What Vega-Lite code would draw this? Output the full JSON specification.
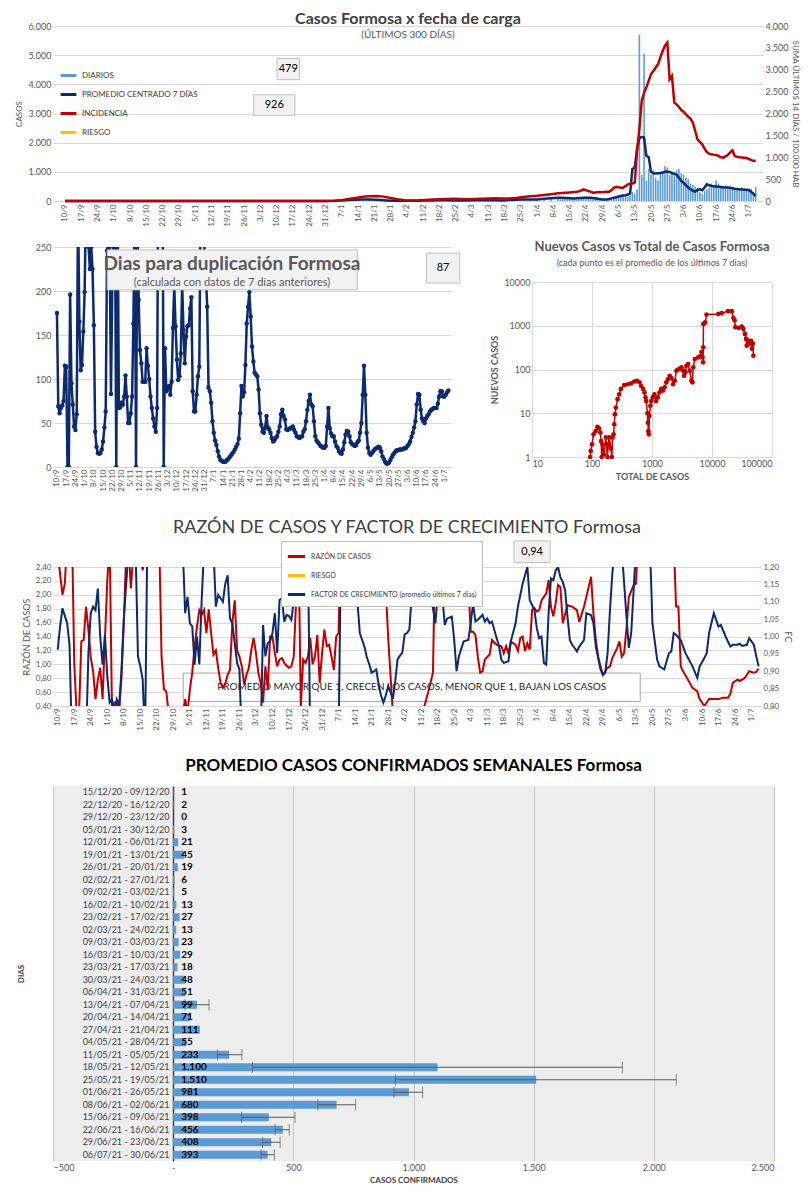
{
"$schema":"https://vega.github.io/schema/vega-lite/v6.json",
"background":"white",
"padding":{"left":15,"top":11,"right":10,"bottom":0},
"config":{
 "font":"Lato",
 "locale":{"number":{"decimal":",","thousands":".","grouping":[3],"currency":["$",""]}},
 "view":{"stroke":null},
 "axis":{"labelFont":"Lato","titleFont":"Lato","labelColor":"#595959","titleColor":"#595959","labelFontSize":9,"titleFontSize":9,"titleFontWeight":"normal","gridColor":"#d9d9d9","domainColor":"#bfbfbf","tickColor":"#bfbfbf","ticks":false,"domain":false,"labelOverlap":false},
 "legend":{"labelFont":"Lato","labelColor":"#404040","labelFontSize":8,"symbolType":"stroke","symbolStrokeWidth":3,"labelLimit":400},
 "title":{"font":"Lato","color":"#595959","subtitleFont":"Lato","subtitleColor":"#595959","anchor":"middle"}
},
"resolve":{"scale":{"color":"independent"},"legend":{"color":"independent"}},
"datasets":{
"top":[{"t":0,"dia":0,"prom":0,"inc":0},{"t":30,"dia":0,"prom":0,"inc":0},{"t":60,"dia":0,"prom":0,"inc":0},{"t":90,"dia":0,"prom":0,"inc":0},{"t":112,"dia":1,"prom":1,"inc":2},
{"t":116,"dia":5,"prom":5,"inc":8},{"t":119,"dia":20,"prom":15,"inc":20},{"t":122,"dia":30,"prom":30,"inc":45},{"t":125,"dia":45,"prom":45,"inc":70},{"t":128,"dia":60,"prom":55,"inc":95},{"t":131,"dia":50,"prom":55,"inc":110},{"t":134,"dia":35,"prom":40,"inc":115},{"t":137,"dia":20,"prom":25,"inc":100},{"t":140,"dia":10,"prom":12,"inc":70},{"t":143,"dia":5,"prom":6,"inc":40},{"t":146,"dia":5,"prom":5,"inc":20},{"t":149,"dia":6,"prom":6,"inc":12},{"t":152,"dia":10,"prom":10,"inc":15},{"t":155,"dia":15,"prom":14,"inc":25},{"t":158,"dia":20,"prom":20,"inc":35},{"t":161,"dia":25,"prom":25,"inc":40},{"t":164,"dia":30,"prom":28,"inc":45},{"t":167,"dia":20,"prom":18,"inc":50},{"t":170,"dia":12,"prom":14,"inc":45},{"t":173,"dia":15,"prom":15,"inc":40},{"t":176,"dia":25,"prom":22,"inc":45},{"t":179,"dia":25,"prom":25,"inc":50},{"t":182,"dia":30,"prom":28,"inc":55},{"t":185,"dia":30,"prom":28,"inc":60},{"t":188,"dia":20,"prom":20,"inc":55},{"t":191,"dia":30,"prom":30,"inc":55},{"t":194,"dia":45,"prom":45,"inc":70},{"t":197,"dia":50,"prom":48,"inc":90},{"t":200,"dia":50,"prom":50,"inc":110},{"t":203,"dia":55,"prom":55,"inc":120},{"t":206,"dia":70,"prom":75,"inc":135},{"t":209,"dia":100,"prom":95,"inc":155},
{"t":212,"dia":100,"prom":110,"inc":175},{"t":213,"dia":60,"prom":115,"inc":180},{"t":214,"dia":130,"prom":110,"inc":185},{"t":215,"dia":150,"prom":100,"inc":190},{"t":216,"dia":120,"prom":100,"inc":190},{"t":217,"dia":90,"prom":95,"inc":195},{"t":218,"dia":80,"prom":95,"inc":200},{"t":219,"dia":70,"prom":90,"inc":205},{"t":220,"dia":40,"prom":95,"inc":210},{"t":221,"dia":90,"prom":100,"inc":220},{"t":222,"dia":100,"prom":105,"inc":240},{"t":223,"dia":120,"prom":110,"inc":267},{"t":224,"dia":150,"prom":110,"inc":250},{"t":225,"dia":130,"prom":115,"inc":230},{"t":226,"dia":110,"prom":110,"inc":215},{"t":227,"dia":60,"prom":105,"inc":190},{"t":228,"dia":100,"prom":95,"inc":195},{"t":229,"dia":110,"prom":80,"inc":200},{"t":230,"dia":80,"prom":65,"inc":205},{"t":231,"dia":40,"prom":55,"inc":200},{"t":232,"dia":30,"prom":50,"inc":205},{"t":233,"dia":20,"prom":55,"inc":210},{"t":234,"dia":30,"prom":70,"inc":213},{"t":235,"dia":60,"prom":90,"inc":250},{"t":236,"dia":90,"prom":110,"inc":300},{"t":237,"dia":150,"prom":130,"inc":327},{"t":238,"dia":200,"prom":150,"inc":315},{"t":239,"dia":190,"prom":170,"inc":305},{"t":240,"dia":220,"prom":190,"inc":305},{"t":241,"dia":180,"prom":200,"inc":340},{"t":242,"dia":160,"prom":220,"inc":380},{"t":243,"dia":200,"prom":260,"inc":390},{"t":244,"dia":320,"prom":1100,"inc":400},{"t":245,"dia":250,"prom":1150,"inc":420},{"t":246,"dia":400,"prom":1800,"inc":1150},{"t":247,"dia":5700,"prom":2150,"inc":1650},{"t":248,"dia":900,"prom":2200,"inc":2286},{"t":249,"dia":5050,"prom":2180,"inc":2476},{"t":250,"dia":700,"prom":1550,"inc":2600},{"t":251,"dia":1100,"prom":1500,"inc":2750},{"t":252,"dia":900,"prom":1000,"inc":2895},{"t":253,"dia":1050,"prom":950,"inc":2970},{"t":254,"dia":800,"prom":940,"inc":3050},{"t":255,"dia":700,"prom":950,"inc":3124},{"t":256,"dia":950,"prom":960,"inc":3280},{"t":257,"dia":1000,"prom":980,"inc":3429},{"t":258,"dia":1200,"prom":1000,"inc":3550},{"t":259,"dia":1150,"prom":1010,"inc":3619},{"t":260,"dia":900,"prom":990,"inc":2781},{"t":261,"dia":1000,"prom":960,"inc":2857},{"t":262,"dia":850,"prom":930,"inc":2248},{"t":263,"dia":1050,"prom":897,"inc":2210},{"t":264,"dia":1100,"prom":800,"inc":2150},{"t":265,"dia":950,"prom":690,"inc":2080},{"t":266,"dia":900,"prom":620,"inc":2040},{"t":267,"dia":800,"prom":540,"inc":1980},{"t":268,"dia":750,"prom":460,"inc":1930},{"t":269,"dia":600,"prom":400,"inc":1880},{"t":270,"dia":550,"prom":350,"inc":1790},{"t":271,"dia":500,"prom":320,"inc":1600},{"t":272,"dia":450,"prom":380,"inc":1410},{"t":273,"dia":300,"prom":400,"inc":1350},{"t":274,"dia":250,"prom":370,"inc":1295},{"t":275,"dia":350,"prom":460,"inc":1200},{"t":276,"dia":400,"prom":575,"inc":1120},{"t":277,"dia":450,"prom":540,"inc":1082},{"t":278,"dia":600,"prom":517,"inc":1070},{"t":279,"dia":550,"prom":505,"inc":1060},{"t":280,"dia":700,"prom":500,"inc":1052},{"t":281,"dia":600,"prom":490,"inc":1030},{"t":282,"dia":500,"prom":480,"inc":1000},{"t":283,"dia":450,"prom":470,"inc":990},{"t":284,"dia":550,"prom":465,"inc":1020},{"t":285,"dia":500,"prom":460,"inc":1052},{"t":286,"dia":520,"prom":450,"inc":1110},{"t":287,"dia":480,"prom":440,"inc":1158},{"t":288,"dia":450,"prom":420,"inc":1029},{"t":289,"dia":420,"prom":410,"inc":1010},{"t":290,"dia":400,"prom":400,"inc":1000},{"t":291,"dia":470,"prom":395,"inc":995},{"t":292,"dia":430,"prom":390,"inc":990},{"t":293,"dia":400,"prom":385,"inc":985},{"t":294,"dia":350,"prom":380,"inc":960},{"t":295,"dia":420,"prom":320,"inc":940},{"t":296,"dia":300,"prom":250,"inc":914},{"t":297,"dia":479,"prom":172,"inc":926}],
"dup":[{"t":0,"v":175},{"t":1,"v":69},{"t":2,"v":61},{"t":3,"v":67},{"t":4,"v":70},{"t":5,"v":75},{"t":6,"v":115},{"t":7,"v":114},{"t":8,"v":0},{"t":9,"v":0},{"t":10,"v":196},{"t":11,"v":95},{"t":12,"v":71},{"t":13,"v":46},{"t":14,"v":42},{"t":15,"v":60},{"t":16,"v":300},{"t":17,"v":165},{"t":18,"v":110},{"t":19,"v":116},{"t":20,"v":154},{"t":21,"v":199},{"t":22,"v":300},{"t":23,"v":300},{"t":24,"v":250},{"t":25,"v":225},{"t":26,"v":250},{"t":27,"v":225},{"t":28,"v":161},{"t":29,"v":40},{"t":30,"v":23},{"t":31,"v":16},{"t":32,"v":15},{"t":33,"v":16},{"t":34,"v":20},{"t":35,"v":29},{"t":36,"v":45},{"t":37,"v":63},{"t":38,"v":246},{"t":39,"v":250},{"t":40,"v":250},{"t":41,"v":83},{"t":42,"v":212},{"t":43,"v":250},{"t":44,"v":300},{"t":45,"v":0},{"t":46,"v":300},{"t":47,"v":67},{"t":48,"v":68},{"t":49,"v":73},{"t":50,"v":71},{"t":51,"v":80},{"t":52,"v":104},{"t":53,"v":80},{"t":54,"v":50},{"t":55,"v":50},{"t":56,"v":61},{"t":57,"v":80},{"t":58,"v":163},{"t":59,"v":300},{"t":60,"v":0},{"t":61,"v":300},{"t":62,"v":190},{"t":63,"v":133},{"t":64,"v":118},{"t":65,"v":97},{"t":66,"v":97},{"t":67,"v":97},{"t":68,"v":135},{"t":69,"v":115},{"t":70,"v":100},{"t":71,"v":80},{"t":72,"v":67},{"t":73,"v":55},{"t":74,"v":46},{"t":75,"v":40},{"t":76,"v":67},{"t":77,"v":400},{"t":78,"v":400},{"t":79,"v":400},{"t":80,"v":400},{"t":81,"v":0},{"t":82,"v":135},{"t":83,"v":86},{"t":84,"v":90},{"t":85,"v":92},{"t":86,"v":82},{"t":87,"v":97},{"t":88,"v":158},{"t":89,"v":205},{"t":90,"v":160},{"t":91,"v":122},{"t":92,"v":99},{"t":93,"v":103},{"t":94,"v":129},{"t":95,"v":208},{"t":96,"v":156},{"t":97,"v":118},{"t":98,"v":148},{"t":99,"v":160},{"t":100,"v":161},{"t":101,"v":180},{"t":102,"v":193},{"t":103,"v":86},{"t":104,"v":63},{"t":105,"v":63},{"t":106,"v":82},{"t":107,"v":103},{"t":108,"v":114},{"t":109,"v":300},{"t":110,"v":300},{"t":111,"v":300},{"t":112,"v":242},{"t":113,"v":220},{"t":114,"v":182},{"t":115,"v":90},{"t":116,"v":86},{"t":117,"v":73},{"t":118,"v":52},{"t":119,"v":39},{"t":120,"v":30},{"t":121,"v":25},{"t":122,"v":18},{"t":123,"v":12},{"t":124,"v":8},{"t":125,"v":7},{"t":126,"v":6},{"t":127,"v":6},{"t":128,"v":6},{"t":129,"v":8},{"t":130,"v":9},{"t":131,"v":11},{"t":132,"v":13},{"t":133,"v":15},{"t":134,"v":17},{"t":135,"v":20},{"t":136,"v":23},{"t":137,"v":26},{"t":138,"v":32},{"t":139,"v":61},{"t":140,"v":92},{"t":141,"v":80},{"t":142,"v":85},{"t":143,"v":116},{"t":144,"v":163},{"t":145,"v":182},{"t":146,"v":199},{"t":147,"v":171},{"t":148,"v":137},{"t":149,"v":120},{"t":150,"v":107},{"t":151,"v":105},{"t":152,"v":103},{"t":153,"v":88},{"t":154,"v":61},{"t":155,"v":48},{"t":156,"v":40},{"t":157,"v":39},{"t":158,"v":45},{"t":159,"v":58},{"t":160,"v":45},{"t":161,"v":43},{"t":162,"v":39},{"t":163,"v":33},{"t":164,"v":29},{"t":165,"v":30},{"t":166,"v":33},{"t":167,"v":35},{"t":168,"v":40},{"t":169,"v":46},{"t":170,"v":60},{"t":171,"v":65},{"t":172,"v":58},{"t":173,"v":54},{"t":174,"v":43},{"t":175,"v":42},{"t":176,"v":43},{"t":177,"v":44},{"t":178,"v":45},{"t":179,"v":46},{"t":180,"v":42},{"t":181,"v":39},{"t":182,"v":35},{"t":183,"v":34},{"t":184,"v":33},{"t":185,"v":34},{"t":186,"v":35},{"t":187,"v":40},{"t":188,"v":43},{"t":189,"v":52},{"t":190,"v":65},{"t":191,"v":75},{"t":192,"v":82},{"t":193,"v":71},{"t":194,"v":69},{"t":195,"v":52},{"t":196,"v":35},{"t":197,"v":30},{"t":198,"v":28},{"t":199,"v":26},{"t":200,"v":24},{"t":201,"v":23},{"t":202,"v":22},{"t":203,"v":22},{"t":204,"v":24},{"t":205,"v":46},{"t":206,"v":67},{"t":207,"v":44},{"t":208,"v":38},{"t":209,"v":35},{"t":210,"v":35},{"t":211,"v":29},{"t":212,"v":24},{"t":213,"v":22},{"t":214,"v":18},{"t":215,"v":16},{"t":216,"v":15},{"t":217,"v":20},{"t":218,"v":28},{"t":219,"v":37},{"t":220,"v":41},{"t":221,"v":40},{"t":222,"v":35},{"t":223,"v":28},{"t":224,"v":26},{"t":225,"v":25},{"t":226,"v":24},{"t":227,"v":25},{"t":228,"v":28},{"t":229,"v":30},{"t":230,"v":39},{"t":231,"v":50},{"t":232,"v":82},{"t":233,"v":115},{"t":234,"v":82},{"t":235,"v":39},{"t":236,"v":22},{"t":237,"v":16},{"t":238,"v":14},{"t":239,"v":16},{"t":240,"v":18},{"t":241,"v":20},{"t":242,"v":21},{"t":243,"v":22},{"t":244,"v":23},{"t":245,"v":22},{"t":246,"v":18},{"t":247,"v":12},{"t":248,"v":9},{"t":249,"v":6},{"t":250,"v":4},{"t":251,"v":4},{"t":252,"v":5},{"t":253,"v":8},{"t":254,"v":11},{"t":255,"v":14},{"t":256,"v":16},{"t":257,"v":18},{"t":258,"v":19},{"t":259,"v":19},{"t":260,"v":20},{"t":261,"v":20},{"t":262,"v":20},{"t":263,"v":21},{"t":264,"v":21},{"t":265,"v":22},{"t":266,"v":24},{"t":267,"v":26},{"t":268,"v":29},{"t":269,"v":34},{"t":270,"v":39},{"t":271,"v":45},{"t":272,"v":52},{"t":273,"v":71},{"t":274,"v":83},{"t":275,"v":82},{"t":276,"v":65},{"t":277,"v":55},{"t":278,"v":52},{"t":279,"v":50},{"t":280,"v":55},{"t":281,"v":58},{"t":282,"v":60},{"t":283,"v":63},{"t":284,"v":65},{"t":285,"v":66},{"t":286,"v":67},{"t":287,"v":67},{"t":288,"v":67},{"t":289,"v":72},{"t":290,"v":80},{"t":291,"v":86},{"t":292,"v":86},{"t":293,"v":80},{"t":294,"v":80},{"t":295,"v":82},{"t":296,"v":85},{"t":297,"v":87}],
"sc":[{"x":93,"y":1},{"x":95,"y":1.37},{"x":100,"y":1.95},{"x":106,"y":3.3},{"x":115,"y":3.9},{"x":123,"y":4.9},{"x":131,"y":4.5},{"x":138,"y":3.6},{"x":142,"y":2.3},{"x":145,"y":1},{"x":150,"y":1.95},{"x":159,"y":1.15},{"x":170,"y":2.8},{"x":181,"y":1},{"x":187,"y":1.95},{"x":194,"y":2.8},{"x":206,"y":1.6},{"x":214,"y":1},{"x":220,"y":2.8},{"x":229,"y":3.3},{"x":235,"y":5.6},{"x":241,"y":9.5},{"x":250,"y":13.5},{"x":267,"y":21},{"x":284,"y":27},{"x":303,"y":36},{"x":345,"y":44},{"x":393,"y":46},{"x":446,"y":48},{"x":505,"y":53},{"x":560,"y":55},{"x":620,"y":51},{"x":660,"y":42},{"x":710,"y":36},{"x":750,"y":30},{"x":780,"y":23},{"x":800,"y":19},{"x":840,"y":10},{"x":855,"y":6.1},{"x":870,"y":3.9},{"x":885,"y":3.3},{"x":905,"y":8.7},{"x":940,"y":14.8},{"x":970,"y":19},{"x":1030,"y":23},{"x":1100,"y":27},{"x":1170,"y":19},{"x":1250,"y":23},{"x":1330,"y":30},{"x":1420,"y":36},{"x":1520,"y":33},{"x":1620,"y":39},{"x":1730,"y":51},{"x":1850,"y":60},{"x":1970,"y":72},{"x":2100,"y":64},{"x":2250,"y":46},{"x":2400,"y":55},{"x":2550,"y":94},{"x":2720,"y":100},{"x":2900,"y":103},{"x":3100,"y":112},{"x":3300,"y":94},{"x":3430,"y":72},{"x":3600,"y":86},{"x":3750,"y":122},{"x":4000,"y":133},{"x":4260,"y":94},{"x":4540,"y":55},{"x":4720,"y":51},{"x":4860,"y":112},{"x":5180,"y":174},{"x":5880,"y":190},{"x":6250,"y":197},{"x":6670,"y":250},{"x":6950,"y":190},{"x":7100,"y":146},{"x":7150,"y":323},{"x":7200,"y":1100},{"x":7700,"y":1190},{"x":8100,"y":1800},{"x":12800,"y":1860},{"x":14500,"y":1950},{"x":18500,"y":2150},{"x":21400,"y":2150},{"x":22800,"y":1500},{"x":23800,"y":1330},{"x":24500,"y":930},{"x":27800,"y":890},{"x":31300,"y":960},{"x":33300,"y":850},{"x":35400,"y":650},{"x":36900,"y":500},{"x":37900,"y":350},{"x":40500,"y":460},{"x":43500,"y":390},{"x":45000,"y":450},{"x":46400,"y":300},{"x":48000,"y":390},{"x":49000,"y":207}],
"rr":[{"t":0,"r":2.6},{"t":1,"r":2.3},{"t":2,"r":2.0},{"t":3,"r":2.16},{"t":4,"r":2.8},{"t":6,"r":3.0},{"t":7,"r":1.02},{"t":8,"r":0.3},{"t":9,"r":0.25},{"t":10,"r":1.33},{"t":11,"r":1.35},{"t":12,"r":1.83},{"t":13,"r":1.5},{"t":14,"r":1.1},{"t":15,"r":0.9},{"t":16,"r":0.5},{"t":17,"r":0.78},{"t":18,"r":0.95},{"t":19,"r":0.5},{"t":20,"r":1.35},{"t":21,"r":2.2},{"t":22,"r":2.8},{"t":23,"r":0.3},{"t":24,"r":0.45},{"t":25,"r":0.45},{"t":26,"r":0.3},{"t":27,"r":0.8},{"t":28,"r":1.6},{"t":29,"r":2.6},{"t":30,"r":2.7},{"t":31,"r":2.09},{"t":32,"r":2.6},{"t":34,"r":2.8},{"t":36,"r":2.35},{"t":37,"r":2.6},{"t":43,"r":2.8},{"t":44,"r":1.11},{"t":45,"r":0.64},{"t":46,"r":0.61},{"t":47,"r":0.3},{"t":50,"r":0.2},{"t":53,"r":0.3},{"t":54,"r":0.5},{"t":55,"r":0.3},{"t":56,"r":0.64},{"t":57,"r":0.88},{"t":58,"r":1.26},{"t":59,"r":1.54},{"t":60,"r":1.78},{"t":61,"r":1.71},{"t":62,"r":1.78},{"t":63,"r":1.45},{"t":64,"r":1.79},{"t":65,"r":1.45},{"t":66,"r":1.14},{"t":67,"r":1.2},{"t":68,"r":0.95},{"t":69,"r":0.73},{"t":70,"r":0.66},{"t":71,"r":0.72},{"t":72,"r":0.85},{"t":73,"r":0.92},{"t":74,"r":1.6},{"t":75,"r":1.92},{"t":76,"r":1.2},{"t":77,"r":1.11},{"t":78,"r":0.97},{"t":79,"r":0.71},{"t":80,"r":0.85},{"t":81,"r":0.95},{"t":82,"r":1.2},{"t":83,"r":1.38},{"t":84,"r":1.16},{"t":85,"r":0.88},{"t":86,"r":0.73},{"t":87,"r":0.45},{"t":88,"r":0.97},{"t":89,"r":0.64},{"t":90,"r":1.4},{"t":91,"r":1.4},{"t":92,"r":1.16},{"t":93,"r":0.97},{"t":94,"r":1.07},{"t":95,"r":1.09},{"t":96,"r":1.02},{"t":97,"r":0.98},{"t":98,"r":0.95},{"t":99,"r":0.97},{"t":100,"r":1.11},{"t":101,"r":1.9},{"t":102,"r":2.8},{"t":103,"r":0.4},{"t":104,"r":1.07},{"t":105,"r":1.02},{"t":106,"r":1.11},{"t":107,"r":1.38},{"t":108,"r":1.0},{"t":109,"r":1.11},{"t":110,"r":1.42},{"t":111,"r":0.73},{"t":112,"r":1.16},{"t":113,"r":1.5},{"t":114,"r":1.26},{"t":115,"r":1.28},{"t":116,"r":1.11},{"t":117,"r":0.92},{"t":118,"r":1.4},{"t":119,"r":1.45},{"t":120,"r":2.8},{"t":130,"r":3.0},{"t":138,"r":2.8},{"t":140,"r":1.4},{"t":142,"r":0.3},{"t":148,"r":0.2},{"t":154,"r":0.3},{"t":155,"r":0.35},{"t":157,"r":0.6},{"t":159,"r":0.88},{"t":160,"r":2.8},{"t":167,"r":3.0},{"t":173,"r":2.8},{"t":175,"r":1.47},{"t":176,"r":1.47},{"t":177,"r":1.42},{"t":178,"r":1.11},{"t":179,"r":0.88},{"t":180,"r":0.9},{"t":181,"r":1.07},{"t":183,"r":1.14},{"t":184,"r":1.35},{"t":186,"r":1.28},{"t":188,"r":1.26},{"t":189,"r":1.16},{"t":190,"r":1.26},{"t":191,"r":1.16},{"t":192,"r":1.33},{"t":194,"r":1.28},{"t":195,"r":1.19},{"t":196,"r":1.38},{"t":197,"r":1.4},{"t":198,"r":1.19},{"t":199,"r":1.3},{"t":200,"r":1.21},{"t":201,"r":1.78},{"t":202,"r":1.81},{"t":203,"r":1.76},{"t":204,"r":1.78},{"t":205,"r":1.92},{"t":207,"r":2.02},{"t":208,"r":2.21},{"t":209,"r":1.83},{"t":210,"r":1.69},{"t":211,"r":1.88},{"t":212,"r":2.14},{"t":213,"r":2.11},{"t":214,"r":1.59},{"t":216,"r":1.85},{"t":218,"r":1.83},{"t":220,"r":1.78},{"t":221,"r":1.61},{"t":223,"r":1.83},{"t":224,"r":1.97},{"t":226,"r":2.26},{"t":227,"r":1.73},{"t":228,"r":1.35},{"t":229,"r":1.11},{"t":230,"r":0.97},{"t":231,"r":0.85},{"t":233,"r":0.95},{"t":234,"r":0.97},{"t":235,"r":1.09},{"t":237,"r":1.23},{"t":238,"r":1.33},{"t":239,"r":1.11},{"t":240,"r":1.16},{"t":241,"r":1.52},{"t":242,"r":1.97},{"t":244,"r":2.14},{"t":245,"r":2.16},{"t":246,"r":2.8},{"t":254,"r":3.0},{"t":261,"r":2.8},{"t":262,"r":1.83},{"t":263,"r":1.83},{"t":264,"r":0.97},{"t":265,"r":0.9},{"t":267,"r":0.78},{"t":269,"r":0.66},{"t":271,"r":0.61},{"t":272,"r":0.5},{"t":274,"r":0.4},{"t":275,"r":0.45},{"t":276,"r":0.5},{"t":278,"r":0.5},{"t":280,"r":0.5},{"t":282,"r":0.52},{"t":284,"r":0.52},{"t":285,"r":0.57},{"t":286,"r":0.73},{"t":288,"r":0.78},{"t":289,"r":0.76},{"t":291,"r":0.8},{"t":292,"r":0.85},{"t":293,"r":0.9},{"t":295,"r":0.88},{"t":296,"r":0.89},{"t":297,"r":0.94}],
"ff":[{"t":0,"f":0.962},{"t":1,"f":1.029},{"t":2,"f":1.081},{"t":3,"f":1.06},{"t":4,"f":1.038},{"t":5,"f":0.976},{"t":6,"f":0.7},{"t":12,"f":0.7},{"t":13,"f":0.95},{"t":14,"f":1.067},{"t":15,"f":1.086},{"t":16,"f":1.076},{"t":17,"f":1.138},{"t":18,"f":1.0},{"t":19,"f":0.919},{"t":20,"f":1.005},{"t":21,"f":0.886},{"t":22,"f":0.81},{"t":23,"f":0.819},{"t":24,"f":0.78},{"t":25,"f":0.819},{"t":26,"f":0.8},{"t":27,"f":0.9},{"t":28,"f":1.05},{"t":29,"f":1.15},{"t":30,"f":1.25},{"t":33,"f":1.25},{"t":34,"f":0.943},{"t":35,"f":0.914},{"t":36,"f":0.876},{"t":37,"f":0.7},{"t":38,"f":1.3},{"t":52,"f":1.3},{"t":53,"f":1.25},{"t":54,"f":1.067},{"t":55,"f":1.114},{"t":56,"f":1.038},{"t":57,"f":1.029},{"t":58,"f":0.919},{"t":59,"f":1.0},{"t":60,"f":0.92},{"t":61,"f":1.105},{"t":62,"f":1.25},{"t":66,"f":1.25},{"t":67,"f":1.086},{"t":68,"f":1.12},{"t":69,"f":1.11},{"t":70,"f":1.1},{"t":71,"f":1.152},{"t":72,"f":1.176},{"t":73,"f":1.052},{"t":74,"f":1.038},{"t":75,"f":0.981},{"t":76,"f":0.924},{"t":77,"f":0.905},{"t":78,"f":0.7},{"t":86,"f":0.7},{"t":87,"f":1.033},{"t":88,"f":0.943},{"t":89,"f":0.981},{"t":90,"f":0.986},{"t":91,"f":1.01},{"t":92,"f":1.067},{"t":93,"f":0.952},{"t":94,"f":1.105},{"t":95,"f":1.11},{"t":96,"f":1.043},{"t":97,"f":1.062},{"t":98,"f":1.059},{"t":99,"f":1.048},{"t":100,"f":1.1},{"t":101,"f":1.25},{"t":106,"f":1.25},{"t":107,"f":0.7},{"t":119,"f":0.7},{"t":120,"f":1.25},{"t":126,"f":1.25},{"t":127,"f":1.1},{"t":128,"f":1.01},{"t":129,"f":0.99},{"t":130,"f":0.97},{"t":131,"f":0.94},{"t":132,"f":0.92},{"t":133,"f":0.896},{"t":134,"f":0.9},{"t":135,"f":0.905},{"t":136,"f":0.86},{"t":137,"f":0.83},{"t":138,"f":0.81},{"t":139,"f":0.83},{"t":140,"f":0.857},{"t":141,"f":0.84},{"t":142,"f":0.82},{"t":143,"f":0.87},{"t":144,"f":0.934},{"t":145,"f":0.945},{"t":146,"f":0.953},{"t":147,"f":1.006},{"t":148,"f":1.01},{"t":149,"f":1.02},{"t":150,"f":1.116},{"t":151,"f":1.124},{"t":152,"f":1.25},{"t":157,"f":1.25},{"t":158,"f":1.124},{"t":160,"f":1.038},{"t":161,"f":1.119},{"t":163,"f":1.114},{"t":164,"f":1.033},{"t":165,"f":1.052},{"t":167,"f":1.057},{"t":168,"f":0.99},{"t":169,"f":0.9},{"t":170,"f":0.943},{"t":172,"f":0.986},{"t":174,"f":0.99},{"t":175,"f":1.038},{"t":176,"f":1.095},{"t":177,"f":1.043},{"t":178,"f":1.048},{"t":180,"f":1.062},{"t":181,"f":1.043},{"t":182,"f":1.052},{"t":183,"f":1.038},{"t":184,"f":1.043},{"t":185,"f":1.019},{"t":187,"f":0.971},{"t":188,"f":0.933},{"t":189,"f":0.924},{"t":191,"f":0.929},{"t":192,"f":0.986},{"t":194,"f":1.038},{"t":195,"f":1.086},{"t":197,"f":1.152},{"t":198,"f":1.176},{"t":199,"f":1.2},{"t":200,"f":1.105},{"t":202,"f":1.076},{"t":203,"f":1.024},{"t":204,"f":0.995},{"t":205,"f":1.0},{"t":206,"f":0.924},{"t":207,"f":0.919},{"t":208,"f":1.067},{"t":209,"f":1.167},{"t":210,"f":1.162},{"t":211,"f":1.19},{"t":212,"f":1.2},{"t":213,"f":1.171},{"t":214,"f":1.157},{"t":215,"f":1.133},{"t":216,"f":1.057},{"t":217,"f":0.99},{"t":218,"f":0.976},{"t":219,"f":0.967},{"t":220,"f":0.957},{"t":221,"f":0.971},{"t":223,"f":0.99},{"t":224,"f":1.067},{"t":226,"f":1.062},{"t":227,"f":1.038},{"t":228,"f":0.971},{"t":230,"f":0.905},{"t":231,"f":0.89},{"t":232,"f":0.895},{"t":233,"f":0.952},{"t":234,"f":1.076},{"t":235,"f":1.181},{"t":236,"f":1.25},{"t":239,"f":1.25},{"t":241,"f":1.057},{"t":242,"f":0.967},{"t":243,"f":1.01},{"t":245,"f":1.25},{"t":251,"f":1.25},{"t":252,"f":1.038},{"t":254,"f":0.933},{"t":255,"f":0.914},{"t":257,"f":0.905},{"t":259,"f":0.952},{"t":260,"f":0.957},{"t":261,"f":1.01},{"t":262,"f":1.005},{"t":264,"f":0.99},{"t":266,"f":0.952},{"t":269,"f":0.914},{"t":271,"f":0.881},{"t":272,"f":0.914},{"t":274,"f":0.938},{"t":275,"f":0.952},{"t":276,"f":1.01},{"t":278,"f":1.067},{"t":279,"f":1.048},{"t":280,"f":1.029},{"t":281,"f":1.033},{"t":283,"f":1.0},{"t":285,"f":0.971},{"t":286,"f":0.976},{"t":288,"f":0.976},{"t":289,"f":0.979},{"t":290,"f":0.973},{"t":292,"f":0.976},{"t":293,"f":0.995},{"t":295,"f":0.976},{"t":296,"f":0.943},{"t":297,"f":0.914}],
"sem":[{"s":"15/12/20 - 09/12/20","v":1},{"s":"22/12/20 - 16/12/20","v":2},{"s":"29/12/20 - 23/12/20","v":0},{"s":"05/01/21 - 30/12/20","v":3},{"s":"12/01/21 - 06/01/21","v":21},{"s":"19/01/21 - 13/01/21","v":45},{"s":"26/01/21 - 20/01/21","v":19},{"s":"02/02/21 - 27/01/21","v":6},{"s":"09/02/21 - 03/02/21","v":5},{"s":"16/02/21 - 10/02/21","v":13},{"s":"23/02/21 - 17/02/21","v":27},{"s":"02/03/21 - 24/02/21","v":13},{"s":"09/03/21 - 03/03/21","v":23},{"s":"16/03/21 - 10/03/21","v":29},{"s":"23/03/21 - 17/03/21","v":18},{"s":"30/03/21 - 24/03/21","v":48},{"s":"06/04/21 - 31/03/21","v":51},{"s":"13/04/21 - 07/04/21","v":99,"lo":49,"hi":149},{"s":"20/04/21 - 14/04/21","v":71},{"s":"27/04/21 - 21/04/21","v":111},{"s":"04/05/21 - 28/04/21","v":55},{"s":"11/05/21 - 05/05/21","v":233,"lo":184,"hi":286},{"s":"18/05/21 - 12/05/21","v":1100,"lo":330,"hi":1869},{"s":"25/05/21 - 19/05/21","v":1510,"lo":925,"hi":2093},{"s":"01/06/21 - 26/05/21","v":981,"lo":919,"hi":1038},{"s":"08/06/21 - 02/06/21","v":680,"lo":602,"hi":759},{"s":"15/06/21 - 09/06/21","v":398,"lo":285,"hi":507},{"s":"22/06/21 - 16/06/21","v":456,"lo":424,"hi":483},{"s":"29/06/21 - 23/06/21","v":408,"lo":372,"hi":445},{"s":"06/07/21 - 30/06/21","v":393,"lo":366,"hi":421}]
},
"spacing":26,
"vconcat":[
{"vconcat":[
{
 "width":710,"height":175,
 "title":{"text":"Casos Formosa x fecha de carga","subtitle":"(ÚLTIMOS 300 DÍAS)","fontSize":16,"fontWeight":"bold","color":"#404040","subtitleFontSize":10,"subtitlePadding":3,"offset":-18},
 "layer":[
  {"layer":[
   {"data":{"name":"top"},"mark":{"type":"bar","width":1.6},
    "encoding":{
     "x":{"field":"t","type":"quantitative","scale":{"domain":[-3,298],"nice":false,"zero":false},"axis":{"values":[0,7,14,21,28,35,42,49,56,63,70,77,84,91,98,105,112,119,126,133,140,147,154,161,168,175,182,189,196,203,210,217,224,231,238,245,252,259,266,273,280,287,294],"tickCount":100,"labelExpr":"timeFormat(datetime(2020,8,10+datum.value),'%-d/%-m')","labelAngle":-90,"labelFontSize":8,"title":null,"grid":false,"labelPadding":3,"labelOverlap":false}},
     "y":{"field":"dia","type":"quantitative","scale":{"domain":[0,6000],"nice":false},"axis":{"values":[0,1000,2000,3000,4000,5000,6000],"tickCount":100,"format":",.0f","title":"CASOS","titleFontSize":8,"grid":true,"labelOverlap":false}},
     "color":{"datum":"DIARIOS","scale":{"domain":["DIARIOS","PROMEDIO CENTRADO 7 DÍAS","INCIDENCIA","RIESGO"],"range":["#5b9bd5","#0b2a6f","#c00000","#ffc000"]},"legend":{"title":null,"orient":"none","legendX":6,"legendY":40,"symbolSize":250,"labelFontSize":8,"rowPadding":3}}}},
   {"data":{"name":"top"},"mark":{"type":"line","strokeWidth":2.5},"encoding":{"x":{"field":"t","type":"quantitative"},"y":{"field":"prom","type":"quantitative"},"color":{"datum":"PROMEDIO CENTRADO 7 DÍAS"}}},
   {"data":{"values":[{"t":96,"y":4525,"txt":"479"}]},"layer":[
     {"mark":{"type":"point","shape":"M-1,-0.95H1V0.95H-1Z","size":500,"filled":true,"fill":"#f2f2f2","stroke":"#bfbfbf","strokeWidth":1,"opacity":1},"encoding":{"x":{"field":"t","type":"quantitative"},"y":{"field":"y","type":"quantitative"}}},
     {"mark":{"type":"text","fontSize":11,"color":"#000000"},"encoding":{"x":{"field":"t","type":"quantitative"},"y":{"field":"y","type":"quantitative"},"text":{"field":"txt"}}}]},
   {"data":{"values":[{"t":90,"y":3290,"txt":"926"}]},"layer":[
     {"mark":{"type":"point","shape":"M-1,-0.5H1V0.5H-1Z","size":1700,"filled":true,"fill":"#f2f2f2","stroke":"#bfbfbf","strokeWidth":1,"opacity":1},"encoding":{"x":{"field":"t","type":"quantitative"},"y":{"field":"y","type":"quantitative"}}},
     {"mark":{"type":"text","fontSize":11,"color":"#000000"},"encoding":{"x":{"field":"t","type":"quantitative"},"y":{"field":"y","type":"quantitative"},"text":{"field":"txt"}}}]}
  ]},
  {"layer":[
   {"data":{"name":"top"},"mark":{"type":"line","strokeWidth":2.5},"encoding":{"x":{"field":"t","type":"quantitative"},"y":{"field":"inc","type":"quantitative","scale":{"domain":[0,4000],"nice":false},"axis":{"orient":"right","values":[0,500,1000,1500,2000,2500,3000,3500,4000],"tickCount":100,"format":",.0f","title":"SUMA  ÚLTIMOS 14 DÍAS / 100.000 HAB","titleLimit":400,"grid":false,"titleFontSize":8,"titlePadding":2,"labelOverlap":false}},"color":{"datum":"INCIDENCIA"}}},
   {"mark":{"type":"rule","strokeWidth":3},"encoding":{"y":{"datum":150},"color":{"datum":"RIESGO"}}}
  ]}
 ],
 "resolve":{"scale":{"y":"independent"}}
},
{"hconcat":[
 {
  "width":398,"height":220,
  "title":{"text":"Dias para duplicación Formosa","subtitle":"(calculada con datos de 7 días anteriores)","fontSize":19,"fontWeight":"bold","color":"#595959","subtitleFontSize":11,"offset":-45,"dx":-20},
  "layer":[
   {"data":{"name":"dup"},"mark":{"type":"line","color":"#0b2a6f","strokeWidth":2.5,"clip":true},
    "encoding":{"x":{"field":"t","type":"quantitative","scale":{"domain":[-3,299],"nice":false,"zero":false},"axis":{"values":[0,7,14,21,28,35,42,49,56,63,70,77,84,91,98,105,112,119,126,133,140,147,154,161,168,175,182,189,196,203,210,217,224,231,238,245,252,259,266,273,280,287,294],"tickCount":100,"labelExpr":"timeFormat(datetime(2020,8,10+datum.value),'%-d/%-m')","labelAngle":-90,"labelFontSize":8,"title":null,"grid":false,"labelOverlap":false}},
     "y":{"field":"v","type":"quantitative","scale":{"domain":[0,250],"nice":false},"axis":{"values":[0,50,100,150,200,250],"tickCount":100,"title":null,"grid":true,"labelOverlap":false}}}},
   {"data":{"name":"dup"},"mark":{"type":"point","filled":true,"size":20,"color":"#0b2a6f","opacity":1,"clip":true},
    "encoding":{"x":{"field":"t","type":"quantitative"},"y":{"field":"v","type":"quantitative"}}},
   {"data":{"values":[{"t":133,"v":224}]},"mark":{"type":"point","shape":"M-1,-0.16H1V0.16H-1Z","size":62500,"filled":true,"fill":"#f2f2f2","stroke":"#bfbfbf","strokeWidth":1,"opacity":1},"encoding":{"x":{"field":"t","type":"quantitative"},"y":{"field":"v","type":"quantitative"}}},
   {"data":{"values":[{"t":293,"v":226,"txt":"87"}]},"layer":[
     {"mark":{"type":"point","shape":"M-1,-0.9H1V0.9H-1Z","size":1100,"filled":true,"fill":"#f2f2f2","stroke":"#bfbfbf","strokeWidth":1,"opacity":1},"encoding":{"x":{"field":"t","type":"quantitative"},"y":{"field":"v","type":"quantitative"}}},
     {"mark":{"type":"text","fontSize":11,"color":"#000000"},"encoding":{"x":{"field":"t","type":"quantitative"},"y":{"field":"v","type":"quantitative"},"text":{"field":"txt"}}}]}
  ]
 },
 {"vconcat":[
  {"width":240,"height":1,"data":{"values":[{"k":1}]},"mark":{"type":"point","opacity":0}},
  {
   "width":240,"height":175,
   "title":{"text":"Nuevos Casos vs Total de Casos Formosa","subtitle":"(cada punto es el promedio de los últimos 7 dias)","fontSize":13,"fontWeight":"bold","color":"#595959","subtitleFontSize":9,"subtitlePadding":5,"offset":10},
   "data":{"name":"sc"},
   "mark":{"type":"line","color":"#c00000","strokeWidth":1.5,"point":{"filled":true,"size":22,"color":"#c00000"}},
   "encoding":{
    "x":{"field":"x","type":"quantitative","scale":{"type":"log","domain":[10,100000],"nice":false},"axis":{"values":[10,100,1000,10000,100000],"tickCount":100,"format":"d","title":"TOTAL DE CASOS","titleFontWeight":"bold","titleFontSize":9,"grid":true,"labelOverlap":false}},
    "y":{"field":"y","type":"quantitative","scale":{"type":"log","domain":[1,10000],"nice":false},"axis":{"values":[1,10,100,1000,10000],"tickCount":100,"format":"d","title":"NUEVOS CASOS","titleFontWeight":"bold","titleFontSize":9,"grid":true,"labelOverlap":false}}
   }
  }
 ],"spacing":-10}
],"spacing":28}
],"spacing":14},
{
 "width":708,"height":139,
 "title":{"text":"RAZÓN DE CASOS Y FACTOR DE CRECIMIENTO Formosa","fontSize":18,"fontWeight":"normal","color":"#404040","offset":2},
 "layer":[
  {"layer":[
   {"data":{"values":[{"t":150,"y":0.67,"txt":"PROMEDIO MAYOR QUE 1, CRECEN LOS CASOS, MENOR QUE 1, BAJAN LOS CASOS"}]},"layer":[
     {"mark":{"type":"point","shape":"M-1,-0.062H1V0.062H-1Z","size":208849,"filled":true,"fill":"#ffffff","stroke":"#a6a6a6","strokeWidth":1,"opacity":1},"encoding":{"x":{"field":"t","type":"quantitative"},"y":{"field":"y","type":"quantitative"}}},
     {"mark":{"type":"text","fontSize":10,"color":"#262626"},"encoding":{"x":{"field":"t","type":"quantitative"},"y":{"field":"y","type":"quantitative"},"text":{"field":"txt"}}}]},
   {"data":{"name":"rr"},"mark":{"type":"line","strokeWidth":2,"clip":true},
    "encoding":{"x":{"field":"t","type":"quantitative","scale":{"domain":[-2,298],"nice":false,"zero":false},"axis":{"values":[0,7,14,21,28,35,42,49,56,63,70,77,84,91,98,105,112,119,126,133,140,147,154,161,168,175,182,189,196,203,210,217,224,231,238,245,252,259,266,273,280,287,294],"tickCount":100,"labelExpr":"timeFormat(datetime(2020,8,10+datum.value),'%-d/%-m')","labelAngle":-90,"labelFontSize":8,"title":null,"grid":false,"labelOverlap":false}},
     "y":{"field":"r","type":"quantitative","scale":{"domain":[0.4,2.4],"nice":false,"zero":false},"axis":{"values":[0.4,0.6,0.8,1.0,1.2,1.4,1.6,1.8,2.0,2.2,2.4],"tickCount":100,"format":".2f","title":"RAZÓN  DE CASOS","grid":true,"labelFontSize":8,"labelOverlap":false}},
     "color":{"datum":"RAZÓN DE CASOS","scale":{"domain":["RAZÓN DE CASOS","RIESGO","FACTOR DE CRECIMIENTO (promedio últimos 7 días)"],"range":["#c00000","#ffc000","#0b2a6f"]},"legend":{"title":null,"orient":"none","legendX":228,"legendY":-26,"symbolSize":300,"labelFontSize":7,"rowPadding":2,"fillColor":"#ffffff","strokeColor":"#bfbfbf","padding":5,"labelLimit":400}}}},
   {"data":{"values":[{"t":201,"y":2.62,"txt":"0,94"}]},"layer":[
     {"mark":{"type":"point","shape":"M-1,-0.6H1V0.6H-1Z","size":1300,"filled":true,"fill":"#f2f2f2","stroke":"#bfbfbf","strokeWidth":1,"opacity":1},"encoding":{"x":{"field":"t","type":"quantitative"},"y":{"field":"y","type":"quantitative"}}},
     {"mark":{"type":"text","fontSize":11,"color":"#000000"},"encoding":{"x":{"field":"t","type":"quantitative"},"y":{"field":"y","type":"quantitative"},"text":{"field":"txt"}}}]}
  ]},
  {"layer":[
   {"data":{"name":"ff"},"mark":{"type":"line","strokeWidth":2,"clip":true},
    "encoding":{"x":{"field":"t","type":"quantitative"},
     "y":{"field":"f","type":"quantitative","scale":{"domain":[0.8,1.2],"nice":false,"zero":false},"axis":{"orient":"right","values":[0.8,0.85,0.9,0.95,1.0,1.05,1.1,1.15,1.2],"tickCount":100,"format":".2f","title":"FC","grid":false,"labelFontSize":8,"labelOverlap":false}},
     "color":{"datum":"FACTOR DE CRECIMIENTO (promedio últimos 7 días)"}}},
   {"mark":{"type":"rule","strokeWidth":3},"encoding":{"y":{"datum":0.96},"color":{"datum":"RIESGO"}}}
  ]}
 ],
 "resolve":{"scale":{"y":"independent"}}
},
{
 "width":721,"height":375,
 "view":{"fill":"#ededed"},
 "title":{"text":"PROMEDIO CASOS CONFIRMADOS SEMANALES Formosa","fontSize":17,"fontWeight":"bold","color":"#000000","offset":11},
 "data":{"name":"sem"},
 "encoding":{"y":{"field":"s","type":"nominal","sort":null,"axis":{"title":"DIAS","titleFontWeight":"bold","titleFontSize":8,"titleColor":"#404040","titleX":-148,"labelFontSize":9,"labelColor":"#404040","offset":-120,"domain":true,"domainColor":"#404040","domainWidth":1.5,"labelPadding":4,"labelOverlap":false}}},
 "layer":[
  {"mark":{"type":"bar","color":"#5b9bd5","height":{"band":0.72}},
   "encoding":{"x":{"field":"v","type":"quantitative","title":"CASOS CONFIRMADOS","scale":{"domain":[-500,2500],"nice":false,"zero":false},"axis":{"values":[-500,0,500,1000,1500,2000,2500],"tickCount":100,"labelExpr":"datum.value==0?'-':format(datum.value,',.0f')","title":"CASOS CONFIRMADOS","titleFontWeight":"bold","titleFontSize":8,"titleColor":"#404040","grid":true,"gridColor":"#c8c8c8","labelFontSize":9,"labelOverlap":false}}}},
  {"transform":[{"filter":"isValid(datum.lo)"}],"mark":{"type":"errorbar","ticks":true,"color":"#595959","thickness":1},
   "encoding":{"x":{"field":"lo","type":"quantitative","title":"CASOS CONFIRMADOS"},"x2":{"field":"hi"}}},
  {"mark":{"type":"text","align":"left","dx":8,"fontWeight":"bold","fontSize":10,"color":"#000000"},
   "encoding":{"x":{"datum":0},"text":{"field":"v","type":"quantitative","format":",.0f"}}}
 ]
}
]
}
